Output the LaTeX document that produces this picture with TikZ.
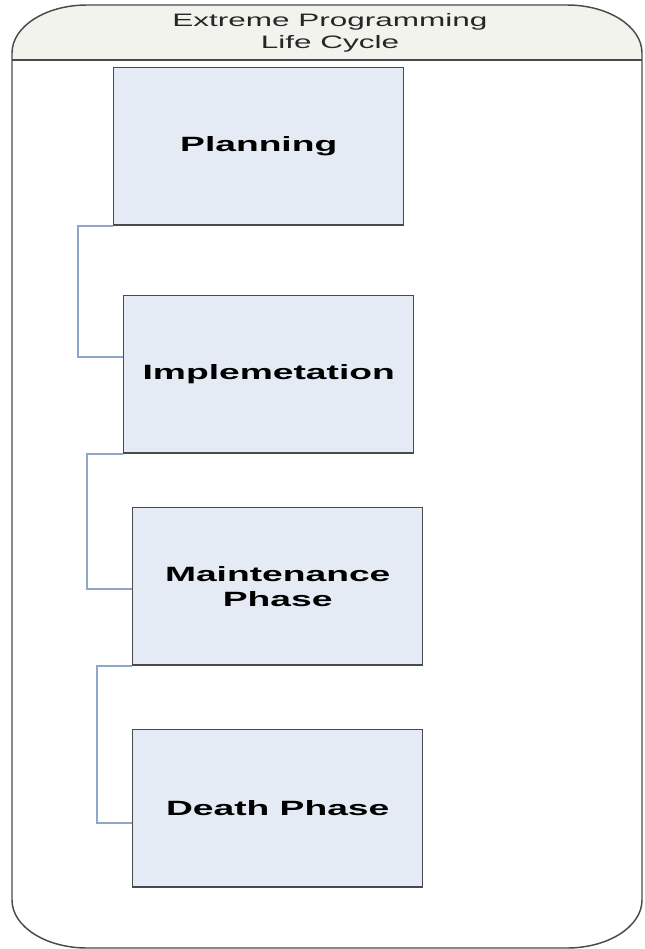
\documentclass[tikz,border=0pt]{standalone}
\usepackage{fontspec}
\usepackage{tikz}
\newfontfamily\phasefont[FakeStretch=1.8]{Liberation Sans}
\newfontfamily\titlefont[FakeStretch=1.75]{Liberation Sans}
\definecolor{PhaseFill}{HTML}{E4EBF5}
\definecolor{PhaseLine}{HTML}{4A4A4A}
\definecolor{LinkBlue}{HTML}{8EA6C8}
\definecolor{HeadFill}{HTML}{F3F3EE}

\begin{document}
\begin{tikzpicture}[x=0.75pt,y=-0.75pt]
  \tikzset{PhaseStyle/.style = {
    shape         = rectangle,
    draw          = PhaseLine,
    fill          = PhaseFill,
    line width    = 1.1pt,
    text          = black,
    anchor        = north west,
    align         = center,
    inner sep     = 0pt,
    minimum width = 217.5pt,
    minimum height= 118pt,
    font          = \phasefont\bfseries\fontsize{15.5}{18.75}\selectfont
    }
  }
  \tikzset{TitleStyle/.style = {
    align         = center,
    inner sep     = 0pt,
    text          = black!85,
    font          = \titlefont\fontsize{13.5}{16.5}\selectfont
    }
  }
  \tikzset{LinkStyle/.style = {
    draw          = LinkBlue,
    line width    = 1.1pt
    }
  }
  \tikzset{FrameStyle/.style = {
    draw          = PhaseLine,
    line width    = 1.1pt
    }
  }
  \useasboundingbox (0,0) rectangle (645,949);

  % outer frame with header
  \def\framepath{(12,53) .. controls (12,26.5) and (45.6,5) .. (87,5) -- (567,5)
    .. controls (608.4,5) and (642,26.5) .. (642,53) -- (642,900)
    .. controls (642,926.5) and (608.4,948) .. (567,948) -- (87,948)
    .. controls (45.6,948) and (12,926.5) .. (12,900) -- cycle}
  \fill[white] \framepath;
  \begin{scope}
    \clip \framepath;
    \fill[HeadFill] (0,0) rectangle (645,60);
  \end{scope}
  \draw[FrameStyle] \framepath;
  \draw[FrameStyle] (12,60) -- (642,60);
  \node[TitleStyle](T1) at (330,33) {Extreme Programming\\Life Cycle};

  % phases
  \node[PhaseStyle](P1) at (113,67) {Planning};
  \node[PhaseStyle](P2) at (123,295) {Implemetation};
  \node[PhaseStyle](P3) at (132,507) {Maintenance\\Phase};
  \node[PhaseStyle](P4) at (132,729) {Death Phase};

  % links
  \draw[LinkStyle] (P1.south west) -- ++(-35,0) |- ([yshift=-46.5pt]P2.north west);
  \draw[LinkStyle] (P2.south west) -- ++(-36,0) |- ([yshift=-61.5pt]P3.north west);
  \draw[LinkStyle] (P3.south west) -- ++(-35,0) |- ([yshift=-70.5pt]P4.north west);
\end{tikzpicture}
\end{document}
